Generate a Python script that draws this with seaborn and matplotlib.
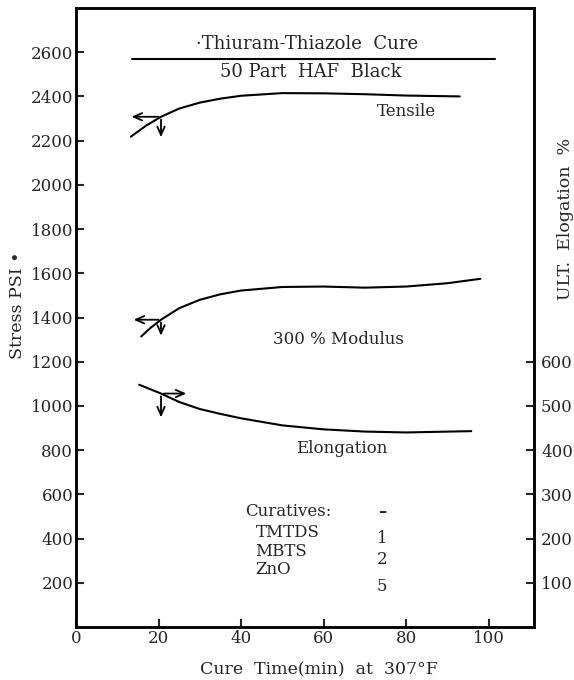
import numpy as np
import pandas as pd
import matplotlib
matplotlib.use("Agg")
import matplotlib.pyplot as plt
import seaborn as sns

# data
tensile_t = [13.3, 17, 20.6, 25, 30, 35, 40, 50, 60, 70, 80, 93]
tensile_psi = [2218, 2268, 2308, 2345, 2372, 2390, 2403, 2415, 2414, 2410, 2404, 2400]

modulus_t = [15.8, 18, 20.6, 25, 30, 35, 40, 50, 60, 70, 80, 90, 98]
modulus_psi = [1314, 1352, 1390, 1442, 1480, 1505, 1522, 1538, 1540, 1535, 1540, 1555, 1575]

elong_t = [15.3, 20.6, 25, 30, 35, 40, 50, 60, 70, 80, 95.8]
elong_pct = [548, 528, 509, 493, 482, 472, 456, 447, 442, 440, 443]

left_ticks = [200, 400, 600, 800, 1000, 1200, 1400, 1600, 1800, 2000, 2200, 2400, 2600]
right_ticks = [100, 200, 300, 400, 500, 600]
x_ticks = [0, 20, 40, 60, 80, 100]

curatives = ["Curatives:", "TMTDS", "MBTS", "ZnO"]
parts = ["\u2013", "1", "2", "5"]
name_y = [524, 429, 343, 262]
part_y = [519, 402, 307, 185]

sns.set_theme(style="ticks")
plt.rcParams["font.family"] = ["DejaVu Serif"]

fig = plt.figure(figsize=(5.74, 6.80), dpi=100)
ax = fig.add_axes([76 / 574, 53 / 680, 458 / 574, 619 / 680])

df_t = pd.DataFrame({"t": tensile_t, "v": tensile_psi})
df_m = pd.DataFrame({"t": modulus_t, "v": modulus_psi})
df_e = pd.DataFrame({"t": elong_t, "v": elong_pct})

sns.lineplot(data=df_t, x="t", y="v", ax=ax, color="black", lw=1.5)
sns.lineplot(data=df_m, x="t", y="v", ax=ax, color="black", lw=1.5)

ax.set_xlim(0, 111)
ax.set_ylim(0, 2800)
ax.set_xticks(x_ticks)
ax.set_yticks(left_ticks)
ax.set_xlabel("Cure  Time(min)  at  307\u00b0F", fontsize=12.5, labelpad=5)
ax.xaxis.set_label_coords(0.53, -0.055)
ax.set_ylabel("Stress PSI \u2022", fontsize=12.5)
ax.yaxis.set_label_coords(-0.11, 0.52)
ax.tick_params(direction="in", length=6, width=1.5, labelsize=12, pad=2)

ax2 = ax.twinx()
sns.lineplot(data=df_e, x="t", y="v", ax=ax2, color="black", lw=1.5)
ax2.set_ylim(0, 1400)
ax2.set_yticks(right_ticks)
ax2.tick_params(direction="in", length=6, width=1.5, labelsize=12, pad=5)
ax2.set_ylabel("ULT.  Elogation  %", fontsize=12.5)
ax2.yaxis.set_label_coords(1.05, 0.66)

for a in (ax, ax2):
    for s in a.spines.values():
        s.set_linewidth(1.8)
        s.set_color("black")

# arrows pointing to the axis each curve belongs to
arr = dict(arrowstyle="->,head_length=0.5,head_width=0.22", color="black", lw=1.3)
t0 = tensile_t[2]
ax.annotate("", xy=(12.8, tensile_psi[2]), xytext=(t0, tensile_psi[2]), arrowprops=arr)
ax.annotate("", xy=(t0, tensile_psi[2] - 105), xytext=(t0, tensile_psi[2]), arrowprops=arr)
t1 = modulus_t[2]
ax.annotate("", xy=(13.3, modulus_psi[2]), xytext=(t1, modulus_psi[2]), arrowprops=arr)
ax.annotate("", xy=(t1, modulus_psi[2] - 85), xytext=(t1, modulus_psi[2]), arrowprops=arr)
t2 = elong_t[1]
ax2.annotate("", xy=(27.4, elong_pct[1]), xytext=(t2, elong_pct[1]), arrowprops=arr)
ax2.annotate("", xy=(t2, elong_pct[1] - 60), xytext=(t2, elong_pct[1]), arrowprops=arr)

# header
ax.plot([13.5, 101.5], [2570, 2570], color="black", lw=1.5)
ax.text(56, 2595, "\u00b7Thiuram-Thiazole  Cure", ha="center", va="bottom", fontsize=13)
ax.text(57, 2550, "50 Part  HAF  Black", ha="center", va="top", fontsize=13)

# curve labels
ax.text(80, 2330, "Tensile", ha="center", va="center", fontsize=12)
ax.text(63.5, 1300, "300 % Modulus", ha="center", va="center", fontsize=12)
ax.text(64.5, 808, "Elongation", ha="center", va="center", fontsize=12)

# curatives table
for i, (name, val) in enumerate(zip(curatives, parts)):
    ax.text(41 if i == 0 else 43.5, name_y[i], name, ha="left", va="center", fontsize=12)
    ax.text(74.2, part_y[i], val, ha="center", va="center", fontsize=12,
            fontweight="bold" if i == 0 else "normal")

fig.savefig("out.png", dpi=100)
